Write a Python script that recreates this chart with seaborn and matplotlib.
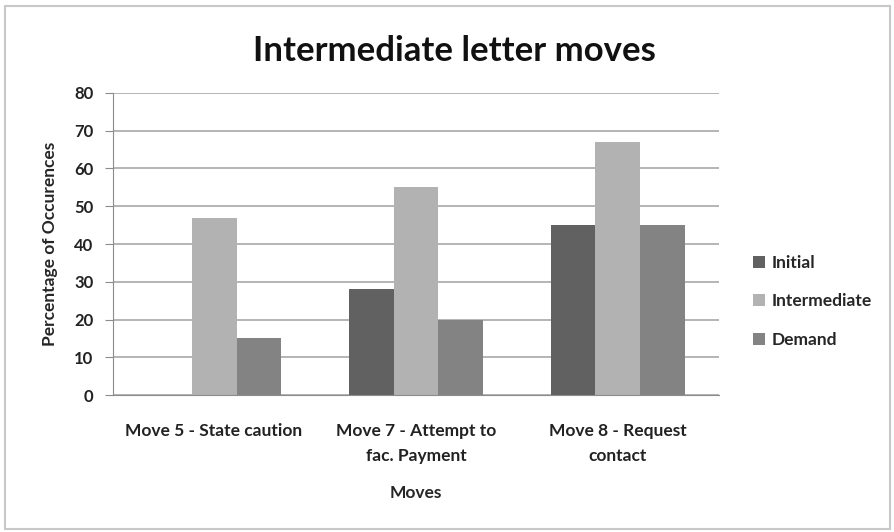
import pandas as pd
import matplotlib.pyplot as plt
import seaborn as sns
from matplotlib.patches import Rectangle

# chart values
moves = ['Move 5 - State caution', 'Move 7 - Attempt to\nfac. Payment', 'Move 8 - Request\ncontact']
initial = [0, 28, 45]
intermediate = [47, 55, 67]
demand = [15, 20, 45]
series_names = ['Initial', 'Intermediate', 'Demand']
colors = ['#616161', '#b2b2b2', '#838383']

df = pd.DataFrame({
    'Moves': moves * 3,
    'Series': [s for s in series_names for _ in moves],
    'Value': initial + intermediate + demand,
})

sns.set_style('white')
plt.rcParams['font.family'] = ['Lato', 'DejaVu Sans']

fig = plt.figure(figsize=(8.95, 5.32), dpi=100)
fig.patches.append(Rectangle((0.006, 0.006), 0.988, 0.983, transform=fig.transFigure,
                             fill=False, edgecolor='#c8c8c8', linewidth=1.5))
ax = fig.add_axes([0.1263, 0.2575, 0.677, 0.5677])

sns.barplot(data=df, x='Moves', y='Value', hue='Series', palette=colors,
            width=0.668, ax=ax, saturation=1, legend=True, linewidth=0)

ax.set_ylim(0, 80)
ax.set_yticks(range(0, 81, 10))
ax.yaxis.grid(True, color='#b4b4b4', linewidth=1.4)
ax.set_axisbelow(True)
for side in ['top', 'right']:
    ax.spines[side].set_visible(False)
ax.spines['left'].set_color('#8c8c8c')
ax.spines['bottom'].set_color('#8c8c8c')
ax.tick_params(axis='y', left=True, length=6, color='#8c8c8c', labelsize=12, pad=8)
ax.tick_params(axis='x', bottom=False, labelsize=12.5, pad=17)
for lbl in ax.get_xticklabels() + ax.get_yticklabels():
    lbl.set_fontweight('bold')
    lbl.set_color('#222222')
for lbl in ax.get_xticklabels():
    lbl.set_linespacing(1.65)

# title sits centred on the whole chart, not on the plot area
ax.set_title('Intermediate letter moves', fontsize=25, fontweight='bold', pad=23,
             color='#111111', x=0.563)
ax.set_xlabel('Moves', fontsize=12.5, fontweight='bold', labelpad=15)
ax.set_ylabel('Percentage of Occurences', fontsize=12.5, fontweight='bold', labelpad=12)

ax.legend(frameon=False, loc='center left', bbox_to_anchor=(1.03, 0.31),
          handlelength=0.7, handleheight=0.7, handletextpad=0.4,
          labelspacing=1.3, prop={'weight': 'bold', 'size': 12.5})

fig.savefig('out.png', dpi=100)
